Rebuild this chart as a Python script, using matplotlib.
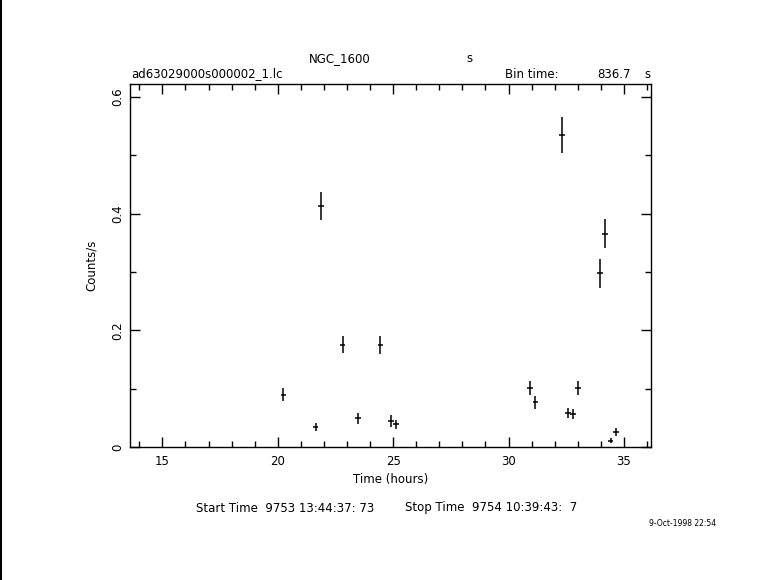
import matplotlib
matplotlib.use("Agg")
import matplotlib.pyplot as plt
from matplotlib.ticker import MultipleLocator, FixedLocator
from matplotlib.lines import Line2D

time_hours = [20.24, 21.64, 21.87, 22.81, 23.48, 24.44, 24.91, 25.13,
              30.93, 31.16, 32.32, 32.58, 32.79, 33.01, 33.96, 34.18, 34.42, 34.65]
counts = [0.090, 0.035, 0.413, 0.175, 0.049, 0.175, 0.045, 0.039,
          0.101, 0.077, 0.535, 0.058, 0.057, 0.101, 0.298, 0.366, 0.011, 0.026]
count_err = [0.011, 0.007, 0.0235, 0.0146, 0.0094, 0.015, 0.010, 0.008,
             0.012, 0.011, 0.031, 0.0086, 0.0086, 0.012, 0.025, 0.025, 0.0046, 0.0063]
bin_time_s = 836.7
x_ticks = [15, 20, 25, 30, 35]
y_ticks = [0, 0.2, 0.4, 0.6]
y_tick_labels = ["0", "0.2", "0.4", "0.6"]

plt.rcParams['font.family'] = ['DejaVu Sans']
fig = plt.figure(figsize=(7.81, 5.80), dpi=100)
ax = fig.add_axes([0.1665, 0.2293, 0.667, 0.6254])

half_bin = bin_time_s / 3600.0 / 2.0
ax.errorbar(time_hours, counts, yerr=count_err, xerr=half_bin, fmt='none',
            ecolor='black', elinewidth=1.1, capsize=0)

ax.set_xlim(13.6, 36.17)
ax.set_ylim(0, 0.622)
ax.xaxis.set_major_locator(FixedLocator(x_ticks))
ax.xaxis.set_minor_locator(MultipleLocator(1))
ax.yaxis.set_major_locator(FixedLocator(y_ticks))
ax.yaxis.set_minor_locator(MultipleLocator(0.1))
ax.set_yticklabels(y_tick_labels, rotation=90, va='center')
ax.tick_params(which='both', direction='in', top=True, right=True,
               labelsize=8.5, width=1, color='black')
ax.tick_params(which='major', length=7)
ax.tick_params(which='minor', length=4)
ax.tick_params(axis='x', pad=6)
ax.tick_params(axis='y', pad=4)
for s in ax.spines.values():
    s.set_linewidth(1.0)

ax.set_xlabel("Time (hours)", fontsize=8.5, labelpad=3)
ax.set_ylabel("Counts/s", fontsize=8.5, labelpad=10)

fig.text(340/781, 1-59/580, "NGC_1600", fontsize=8.5, ha='center', va='center')
fig.text(469/781, 1-59/580, "s", fontsize=8.5, ha='center', va='center')
fig.text(131/781, 1-74/580, "ad63029000s000002_1.lc", fontsize=8.5, ha='left', va='center')
fig.text(505/781, 1-74/580, "Bin time:", fontsize=8.5, ha='left', va='center')
fig.text(597/781, 1-74/580, "836.7", fontsize=8.5, ha='left', va='center')
fig.text(647/781, 1-74/580, "s", fontsize=8.5, ha='center', va='center')
fig.text(196/781, 1-508/580, "Start Time  9753 13:44:37: 73",
         fontsize=8.5, ha='left', va='center')
fig.text(405/781, 1-508/580, "Stop Time  9754 10:39:43:  7",
         fontsize=8.5, ha='left', va='center')
fig.text(683/781, 1-524/580, "9-Oct-1998 22:54", fontsize=5.5, ha='center', va='center')

fig.add_artist(Line2D([1/781, 1/781], [0, 1], transform=fig.transFigure,
                      color='black', linewidth=1.5))

fig.savefig("out.png", dpi=100)
